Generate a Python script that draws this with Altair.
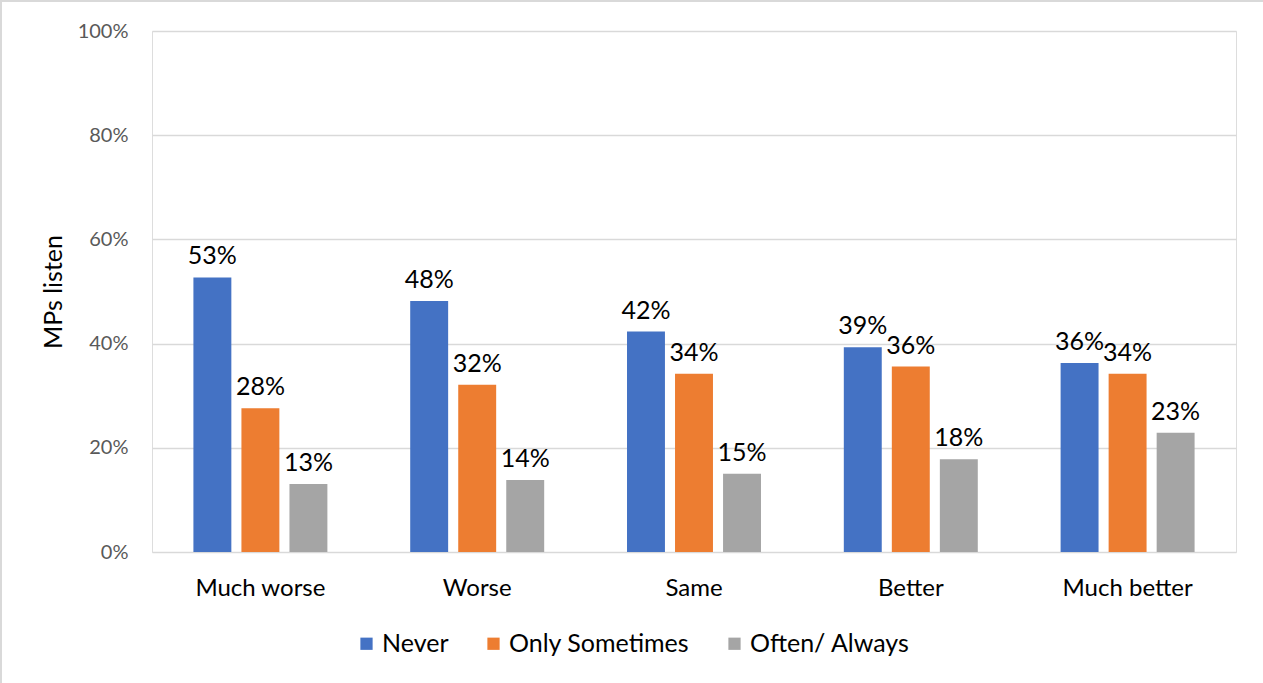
import altair as alt
import pandas as pd

# Responses grouped by perceived change, split by how often MPs listen
categories = ["Much worse", "Worse", "Same", "Better", "Much better"]
series = ["Never", "Only Sometimes", "Often/ Always"]
never = [0.527, 0.482, 0.423, 0.393, 0.363]
only_sometimes = [0.276, 0.321, 0.342, 0.356, 0.342]
often_always = [0.1305, 0.138, 0.150, 0.178, 0.229]
colors = ["#4472C4", "#ED7D31", "#A5A5A5"]
y_ticks = [0, 0.2, 0.4, 0.6, 0.8, 1.0]

rows = []
for name, vals in zip(series, [never, only_sometimes, often_always]):
    for cat, v in zip(categories, vals):
        rows.append({"category": cat, "series": name, "value": v})
df = pd.DataFrame(rows)

FONT = "Lato"
W, H = 1084, 521

x_enc = alt.X(
    "category:N",
    sort=categories,
    scale=alt.Scale(paddingInner=0.382, paddingOuter=0.191),
    axis=alt.Axis(
        title=None, labelAngle=0, labelFontSize=24, labelColor="#000000",
        labelFont=FONT, ticks=False, domain=False, labelPadding=24,
    ),
)
xoff_enc = alt.XOffset(
    "series:N", sort=series, scale=alt.Scale(paddingInner=0.21, paddingOuter=0)
)
y_enc = alt.Y(
    "value:Q",
    scale=alt.Scale(domain=[0, 1], nice=False),
    axis=alt.Axis(
        title="MPs listen", titleFontSize=25, titleFont=FONT, titleColor="#000000",
        titleFontWeight="normal", titlePadding=11,
        format=".0%", values=y_ticks, labelFontSize=20, labelFont=FONT,
        labelColor="#595959", labelPadding=24, ticks=False, domain=False,
        gridColor="#D9D9D9", gridWidth=1.5,
    ),
)

bars = alt.Chart(df).mark_bar().encode(
    x=x_enc,
    xOffset=xoff_enc,
    y=y_enc,
    color=alt.Color(
        "series:N",
        sort=series,
        scale=alt.Scale(domain=series, range=colors),
        legend=alt.Legend(
            title=None, orient="none", direction="horizontal",
            legendX=202, legendY=600, symbolType="square", symbolSize=150,
            symbolStrokeWidth=0, labelFontSize=25, labelFont=FONT,
            labelColor="#000000", labelOffset=3, columnPadding=32, labelLimit=0,
        ),
    ),
)

labels = alt.Chart(df).mark_text(
    fontSize=25, font=FONT, color="#000000", baseline="alphabetic", dy=-13
).encode(
    x=alt.X("category:N", sort=categories),
    xOffset=alt.XOffset("series:N", sort=series),
    y="value:Q",
    text=alt.Text("value:Q", format=".0%"),
)

# Light frame along the top and left edges of the figure
frame_left = alt.Chart(df).mark_rule(color="#D9D9D9", strokeWidth=2).encode(
    x=alt.value(-151), y=alt.value(-31), y2=alt.value(683 - 31)
)
frame_top = alt.Chart(df).mark_rule(color="#D9D9D9", strokeWidth=2).encode(
    y=alt.value(-30), x=alt.value(-152), x2=alt.value(1263 - 152)
)

chart = (
    alt.layer(bars, labels, frame_left, frame_top)
    .properties(
        width=W, height=H,
        autosize=alt.AutoSizeParams(type="none"),
        padding={"left": 152, "top": 31, "right": 27, "bottom": 131},
    )
    .configure_view(stroke=None)
    .configure(background="#FFFFFF")
)

chart.save("out.html", embed_options={"renderer": "svg", "actions": False})
